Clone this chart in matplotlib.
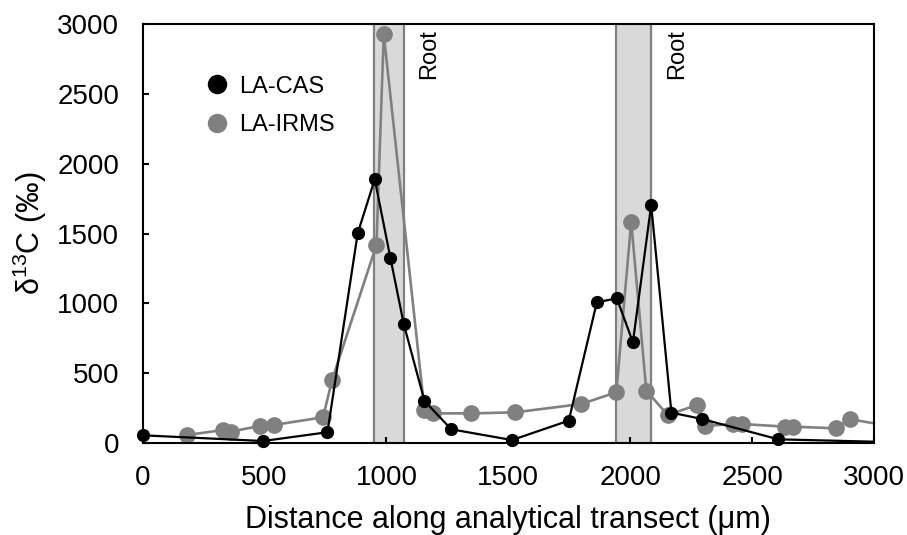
import numpy as np
import matplotlib.pyplot as plt
from matplotlib.lines import Line2D

plt.rcParams['font.family'] = ['Liberation Sans', 'DejaVu Sans']
plt.rcParams['mathtext.fontset'] = 'custom'
plt.rcParams['mathtext.rm'] = 'Liberation Sans'

# LA-CAS (black); last point lies past the axis edge, only its line shows
cas_x = [0, 494, 758, 882, 952, 1016, 1071, 1156, 1266, 1515, 1748, 1863,
         1945, 2011, 2086, 2169, 2294, 2608, 3100]
cas_y = [55, 14, 77, 1501, 1888, 1327, 852, 301, 98, 21, 160, 1007,
         1036, 721, 1704, 217, 172, 26, 5]

# LA-IRMS (grey)
irms_x = [183, 330, 361, 481, 538, 740, 777, 959, 989, 1156, 1191, 1348,
          1526, 1799, 1943, 2004, 2066, 2154, 2273, 2307, 2423, 2457,
          2635, 2666, 2844, 2902, 3100]
irms_y = [57, 93, 81, 122, 129, 184, 451, 1418, 2926, 236, 212, 212,
          219, 279, 363, 1585, 375, 200, 272, 122, 136, 136,
          117, 117, 105, 170, 111]

# root zones (µm)
roots = [(949, 1071), (1943, 2086)]

BLACK = '#000000'
GREY = '#808080'

fig = plt.figure(figsize=(9.07, 5.35), dpi=100)
ax = fig.add_axes([0.1573, 0.172, 0.8063, 0.7831])

for x0, x1 in roots:
    ax.axvspan(x0, x1, facecolor='#d9d9d9', edgecolor='none', zorder=0)
    ax.axvline(x0, color=GREY, lw=1.6, zorder=1)
    ax.axvline(x1, color=GREY, lw=1.6, zorder=1)
    ax.text(x1 + 105, 2965, 'Root', rotation=90, ha='center', va='top',
            fontsize=17)

series = [
    (np.array(irms_x), np.array(irms_y), GREY, 11, 1.9, 2),
    (np.array(cas_x), np.array(cas_y), BLACK, 8.5, 1.6, 3),
]
for x, y, color, ms, lw, z in series:
    # lines are clipped at the frame, markers are not
    ax.plot(x, y, color=color, lw=lw, zorder=z)
    inside = x <= 3000
    ax.plot(x[inside], y[inside], 'o', color=color, ms=ms, zorder=z + 0.5,
            clip_on=False)

ax.set_xlim(0, 3000)
ax.set_ylim(0, 3000)
ax.set_xticks(np.arange(0, 3001, 500))
ax.set_yticks(np.arange(0, 3001, 500))
ax.tick_params(direction='in', length=4, width=1.5, labelsize=20)
ax.tick_params(axis='y', pad=17)
ax.tick_params(axis='x', pad=16)
for sp in ax.spines.values():
    sp.set_linewidth(1.5)

ax.set_xlabel('Distance along analytical transect (μm)', fontsize=22,
              labelpad=10)
ax.set_ylabel(r'δ$^{\mathrm{13}}$C (‰)', fontsize=22, labelpad=6)

handles = [
    Line2D([], [], marker='o', ls='none', color=BLACK, ms=13),
    Line2D([], [], marker='o', ls='none', color=GREY, ms=13),
]
ax.legend(handles, ['LA-CAS', 'LA-IRMS'], loc='upper left',
          bbox_to_anchor=(0.07, 0.905), frameon=False, fontsize=17,
          handlelength=1.0, handletextpad=0.4, labelspacing=0.7,
          borderpad=0)

fig.savefig('out.png', dpi=100)
